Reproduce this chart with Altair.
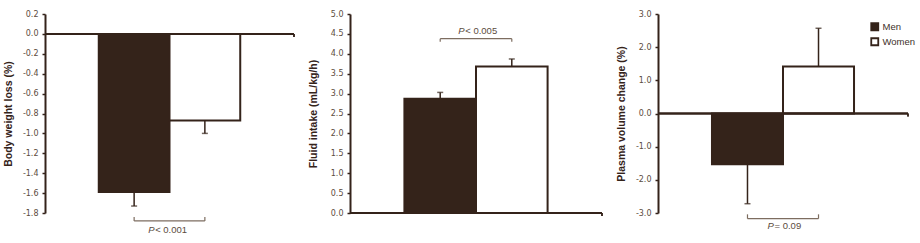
import altair as alt
import pandas as pd

# ---- data ----
groups = ["Men", "Women"]
weight_loss = [-1.59, -0.87]
weight_loss_err = [-1.73, -1.00]
fluid_intake = [2.87, 3.68]
fluid_intake_err = [3.03, 3.87]
plasma_change = [-1.53, 1.42]
plasma_change_err = [-2.72, 2.57]

p_texts = ["< 0.001", "< 0.005", "= 0.09"]

DARK = "#34231a"
LABEL = "#5c4c40"
BRACKET = "#7d6d60"
FONT = "DejaVu Sans"
TFONT = "Liberation Sans"


def panel(values, errs, title, dom, step, width, bracket_y, tick_y, text_y, ptext, pdx, legend=False):
    df = pd.DataFrame({"group": groups, "value": values, "err": errs})
    xs = alt.Scale(domain=groups, paddingInner=0, paddingOuter=0.76)
    x = alt.X("group:N", axis=None, scale=xs)
    ticks = []
    v = dom[0]
    while v <= dom[1] + 1e-9:
        ticks.append(round(v, 2))
        v += step
    y_scale = alt.Scale(domain=dom, nice=False, zero=False)
    yaxis = alt.Axis(
        values=ticks, tickCount=len(ticks) + 2, labelOverlap=False, labelFlush=False,
        labelExpr="(datum.value < 0 ? '-' : '') + format(abs(datum.value), '.1f')",
        title=title, titleFont=TFONT, titleFontSize=10.5, titleFontWeight="bold",
        titleColor=DARK, titleX=-37, titleBaseline="middle",
        labelFont=FONT, labelFontSize=8, labelColor=LABEL, labelPadding=4,
        tickSize=3, tickColor=DARK, tickWidth=1.5,
        domainColor=DARK, domainWidth=2, grid=False,
    )
    if legend:
        fill = alt.Fill("group:N", scale=alt.Scale(domain=groups, range=[DARK, "#ffffff"]),
                        legend=alt.Legend(title=None, orient="none", legendX=212, legendY=8,
                                          symbolType="square", symbolSize=49,
                                          symbolStrokeColor=DARK, symbolStrokeWidth=1.8,
                                          labelFont=TFONT, labelFontSize=9.5, labelColor="#3e3029",
                                          labelOffset=3, rowPadding=0, padding=0))
    else:
        fill = alt.Fill("group:N", scale=alt.Scale(domain=groups, range=[DARK, "#ffffff"]), legend=None)

    def Y(field):
        return alt.Y(field, scale=y_scale, axis=yaxis, title=title)

    base = alt.Chart(df)
    bars = base.mark_bar(stroke=DARK, strokeWidth=2, opacity=1).encode(
        x=x, y=Y("value:Q"), y2=alt.datum(0), fill=fill)
    stems = base.mark_rule(color=DARK, strokeWidth=1.5).encode(
        x=x, y=Y("value:Q"), y2="err:Q")
    caps = base.mark_tick(color=DARK, thickness=1.5, size=6, orient="horizontal").encode(
        x=x, y=Y("err:Q"))
    zero = base.mark_rule(color=DARK, strokeWidth=2).encode(
        x=alt.value(0), x2=alt.value(width), y=alt.datum(0))
    endtick = base.mark_rule(color=DARK, strokeWidth=1.5, y2Offset=3).encode(
        x=alt.value(width), y=alt.datum(0), y2=alt.datum(0))

    bdf = pd.DataFrame({"a": ["Men"], "b": ["Women"], "yb": [bracket_y], "yt": [tick_y], "ty": [text_y]})
    bb = alt.Chart(bdf)
    bx = alt.X("a:N", axis=None, scale=xs)
    bracket = bb.mark_rule(color=BRACKET, strokeWidth=1.2).encode(x=bx, x2="b:N", y=Y("yb:Q"))
    tick_l = bb.mark_rule(color=BRACKET, strokeWidth=1.2).encode(x=bx, y=Y("yb:Q"), y2="yt:Q")
    tick_r = bb.mark_rule(color=BRACKET, strokeWidth=1.2).encode(
        x=alt.X("b:N", axis=None, scale=xs), y=Y("yb:Q"), y2="yt:Q")
    ptxt = bb.mark_text(font=TFONT, fontSize=9.5, fontStyle="italic", color=LABEL,
                        align="left", baseline="middle", dx=pdx).encode(
        x=bx, y=Y("ty:Q"), text=alt.value("P"))
    rtxt = bb.mark_text(font=TFONT, fontSize=9.5, color=LABEL,
                        align="left", baseline="middle", dx=pdx + 7).encode(
        x=bx, y=Y("ty:Q"), text=alt.value(ptext))

    return alt.layer(bars, stems, caps, zero, endtick, bracket, tick_l, tick_r, ptxt, rtxt).properties(
        width=width, height=199)


p1 = panel(weight_loss, weight_loss_err, "Body weight loss (%)", [-1.8, 0.2], 0.2, 249,
           -1.88, -1.84, -1.97, p_texts[0], 14)
p2 = panel(fluid_intake, fluid_intake_err, "Fluid intake (mL/kg/h)", [0, 5], 0.5, 252,
           4.38, 4.30, 4.58, p_texts[1], 18)
p3 = panel(plasma_change, plasma_change_err, "Plasma volume change (%)", [-3, 3], 1, 250,
           -3.17, -3.04, -3.40, p_texts[2], 20, legend=True)

chart = alt.hconcat(p1, p2, p3, spacing=56, bounds="flush").resolve_scale(
    fill="independent", y="independent").resolve_legend(fill="independent").configure_view(
    stroke=None).properties(padding={"left": 3, "top": 10, "right": 4, "bottom": 4},
                            background="white")

chart.save("out.html", embed_options={"renderer": "svg", "actions": False})
